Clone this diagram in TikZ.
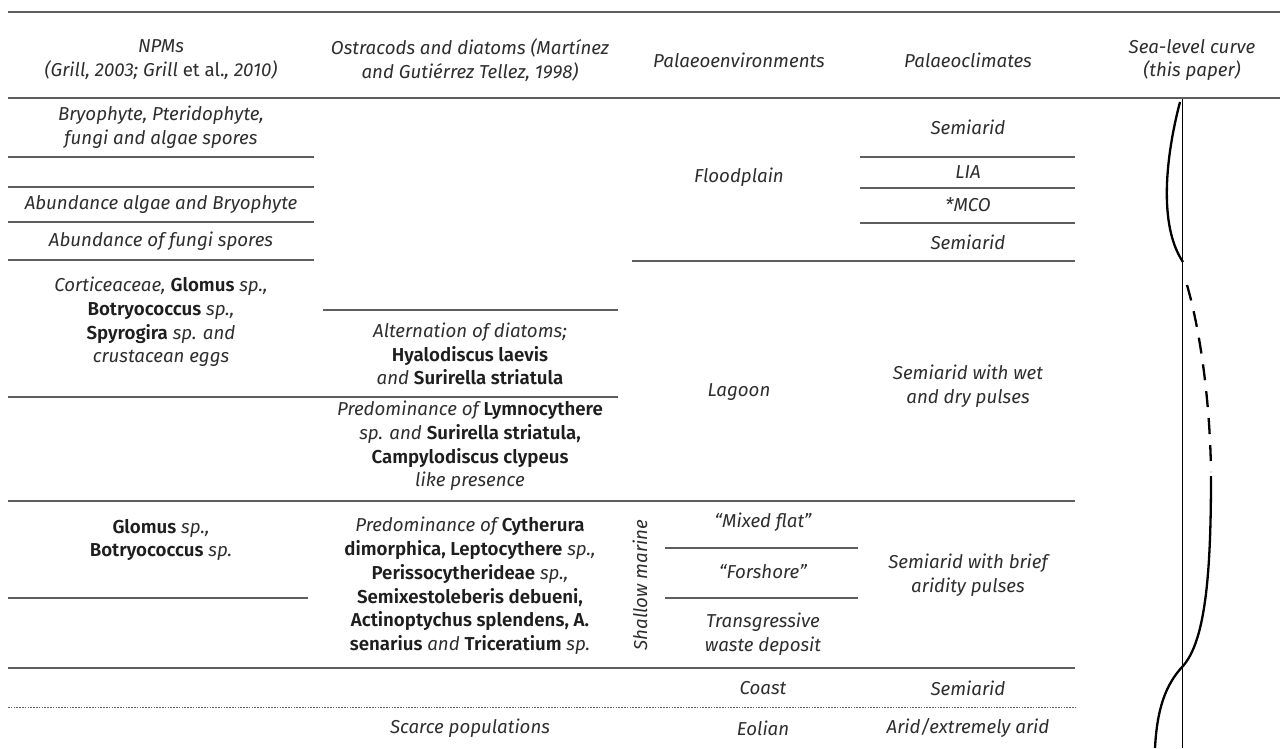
\documentclass[tikz,border=0pt]{standalone}
\usepackage{fontspec}
\setmainfont{Fira Sans}[BoldFont={Fira Sans SemiBold}]
\definecolor{txt}{HTML}{2E2E2E}
\definecolor{bld}{HTML}{1E1E1E}
\definecolor{rulec}{HTML}{5E5E5E}
\newcommand{\spn}[1]{{\upshape\bfseries\color{bld}#1}}
\begin{document}
\begin{tikzpicture}[x=1pt,y=-1pt,
  cell/.style={font=\fontsize{18.7}{23.8}\selectfont\itshape, text=txt, align=center, inner sep=0pt},
  rule/.style={draw=rulec, line width=1.2pt},
  dotrule/.style={draw=rulec, line width=0.9pt, dash pattern=on 1.6pt off 1.2pt},
  curve/.style={draw=black, line width=2.3pt, line cap=butt},
  axis/.style={draw=black, line width=1pt}]
\useasboundingbox (0,0) rectangle (1280,748);
% header
\draw[rule] (8,12) -- (1280,12);
\draw[rule] (8,98) -- (1280,98);
\node[cell] (h1) at (161,60) {NPMs\\(Grill, 2003; Grill {\upshape et al.}, 2010)};
\node[cell] (h2) at (470,60) {Ostracods and diatoms (Mart\'inez\\and Guti\'errez Tellez, 1998)};
\node[cell] (h3) at (739,60) {Palaeoenvironments};
\node[cell] (h4) at (968,60) {Palaeoclimates};
\node[cell] (h5) at (1192,60) {Sea-level curve\\(this paper)};
% column 1
\node[cell] (n1) at (161,127) {Bryophyte, Pteridophyte,\\fungi and algae spores};
\draw[rule] (8,157) -- (314,157);
\draw[rule] (8,187) -- (314,187);
\node[cell] (n2) at (161,204) {Abundance algae and Bryophyte};
\draw[rule] (8,222) -- (314,222);
\node[cell] (n3) at (161,241) {Abundance of fungi spores};
\draw[rule] (8,260) -- (314,260);
\node[cell] (n4) at (161,322) {Corticeaceae, \spn{Glomus} sp.,\\\spn{Botryococcus} sp.,\\\spn{Spyrogira} sp. and\\crustacean eggs};
\draw[rule] (8,397) -- (618,397);
\node[cell] (n5) at (161,540) {\spn{Glomus} sp.,\\\spn{Botryococcus} sp.};
\draw[rule] (8,598) -- (308,598);
% column 2
\draw[rule] (323,310) -- (618,310);
\node[cell] (o1) at (470,354) {Alternation of diatoms;\\\spn{Hyalodiscus laevis}\\and \spn{Surirella striatula}};
\node[cell] (o2) at (470,446) {Predominance of \spn{Lymnocythere}\\sp. and \spn{Surirella striatula,}\\\spn{Campylodiscus clypeus}\\like presence};
\node[cell] (o3) at (470,586) {Predominance of \spn{Cytherura}\\\spn{dimorphica, Leptocythere} sp.,\\\spn{Perissocytherideae} sp.,\\\spn{Semixestoleberis debueni,}\\\spn{Actinoptychus splendens, A.}\\\spn{senarius} and \spn{Triceratium} sp.};
\node[cell] (o4) at (470,728) {Scarce populations};
% column 3
\node[cell] (e1) at (739,177) {Floodplain};
\draw[rule] (632,261) -- (1075,261);
\node[cell] (e2) at (739,392) {Lagoon};
\draw[rule] (8,501) -- (1075,501);
\node[cell, rotate=90] (e3) at (640,585) {Shallow marine};
\node[cell] (e4) at (763,522) {``Mixed flat''};
\draw[rule] (665,548) -- (858,548);
\node[cell] (e5) at (763,572) {``Forshore''};
\draw[rule] (665,598) -- (858,598);
\node[cell] (e6) at (763,634) {Transgressive\\waste deposit};
\draw[rule] (8,668) -- (1075,668);
\node[cell] (e7) at (763,688) {Coast};
\draw[dotrule] (8,707) -- (1075,707);
\node[cell] (e8) at (763,728) {Eolian};
% column 4
\node[cell] (c1) at (968,127) {Semiarid};
\draw[rule] (860,157) -- (1075,157);
\node[cell] (c2) at (968,172) {LIA};
\draw[rule] (860,188) -- (1075,188);
\node[cell] (c3) at (968,205) {*MCO};
\draw[rule] (860,223) -- (1075,223);
\node[cell] (c4) at (968,242) {Semiarid};
\node[cell] (c5) at (968,386) {Semiarid with wet\\and dry pulses};
\node[cell] (c6) at (968,575) {Semiarid with brief\\aridity pulses};
\node[cell] (c7) at (968,688) {Semiarid};
\node[cell] (c8) at (968,728) {Arid/extremely arid};
% sea-level curve
\coordinate (vtop) at (1182,99);
\coordinate (vbot) at (1182,748);
\draw[axis] (vtop) -- (vbot);
\coordinate (s0) at (1180,102);
\coordinate (s1) at (1183,262);
\coordinate (d0) at (1187,285);
\coordinate (d1) at (1211,472);
\coordinate (s2) at (1211,476);
\coordinate (s3) at (1183,666);
\coordinate (s4) at (1155,748);
\draw[curve] (s0) .. controls (1166,155) and (1158,225) .. (s1);
\draw[curve, dash pattern=on 16pt off 11pt] (d0) .. controls (1200,330) and (1210,400) .. (d1);
\draw[curve] (s2) .. controls (1211,570) and (1206,640) .. (s3) .. controls (1165,685) and (1157,710) .. (s4);
\end{tikzpicture}
\end{document}
